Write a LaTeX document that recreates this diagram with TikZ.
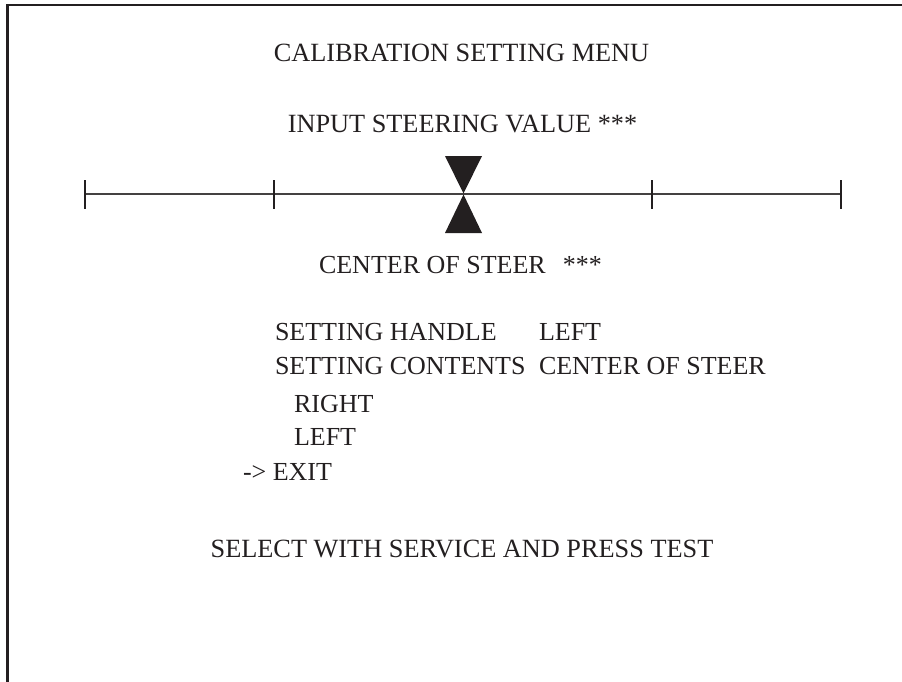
\documentclass[tikz,border=0pt]{standalone}
\usepackage{fontspec}
\setmainfont{Liberation Serif}
\definecolor{ink}{HTML}{231F20}
\begin{document}
\begin{tikzpicture}[x=1pt,y=-1pt,
  txt/.style={anchor=base west,inner sep=0pt,outer sep=0pt,text=ink,font=\fontsize{26}{30}\selectfont},
  ctxt/.style={anchor=base,inner sep=0pt,outer sep=0pt,text=ink,font=\fontsize{26.3}{30}\selectfont},
  frameline/.style={draw=ink,line width=2.4pt},
  scaleline/.style={draw=ink!85,line width=1.4pt},
  tickline/.style={draw=ink,line width=1.6pt},
  marker/.style={fill=ink,draw=none}]
\useasboundingbox (0,0) rectangle (902,682);
% frame (cropped: top and left only)
\draw[frameline] (7.5,682) -- (7.5,5.2) -- (902,5.2);
% titles
\node[ctxt] (title) at (461.5,62) {CALIBRATION SETTING MENU};
\node[ctxt] (input) at (462.5,133) {INPUT STEERING VALUE ***};
% scale
\coordinate (s0) at (85,194);
\coordinate (s1) at (274,194);
\coordinate (s2) at (652,194);
\coordinate (s3) at (841,194);
\draw[scaleline] (s0) -- (s3);
\foreach \c in {s0,s1,s2,s3}{\draw[tickline] ([yshift=-14.5pt]\c) -- ([yshift=14.5pt]\c);}
% marker
\coordinate (m) at (463.5,194);
\fill[marker] (445,156) -- (482,156) -- (463.5,193.5) -- cycle;
\fill[marker] (463.5,194.5) -- (482,233) -- (445,233) -- cycle;
\node[txt] (center) at (319,273) {CENTER OF STEER\hspace{17pt}***};
% menu
\node[txt] (handle) at (275,340) {SETTING HANDLE};
\node[txt] (handlev) at (539,340) {LEFT};
\node[txt] (contents) at (275,374) {SETTING CONTENTS};
\node[txt] (contentsv) at (539,374) {CENTER OF STEER};
\node[txt] (right) at (294,412) {RIGHT};
\node[txt] (left) at (294,445) {LEFT};
\node[txt] (exit) at (243,480) {->\ EXIT};
\node[ctxt] (select) at (462,557) {SELECT WITH SERVICE AND PRESS TEST};
\end{tikzpicture}
\end{document}
